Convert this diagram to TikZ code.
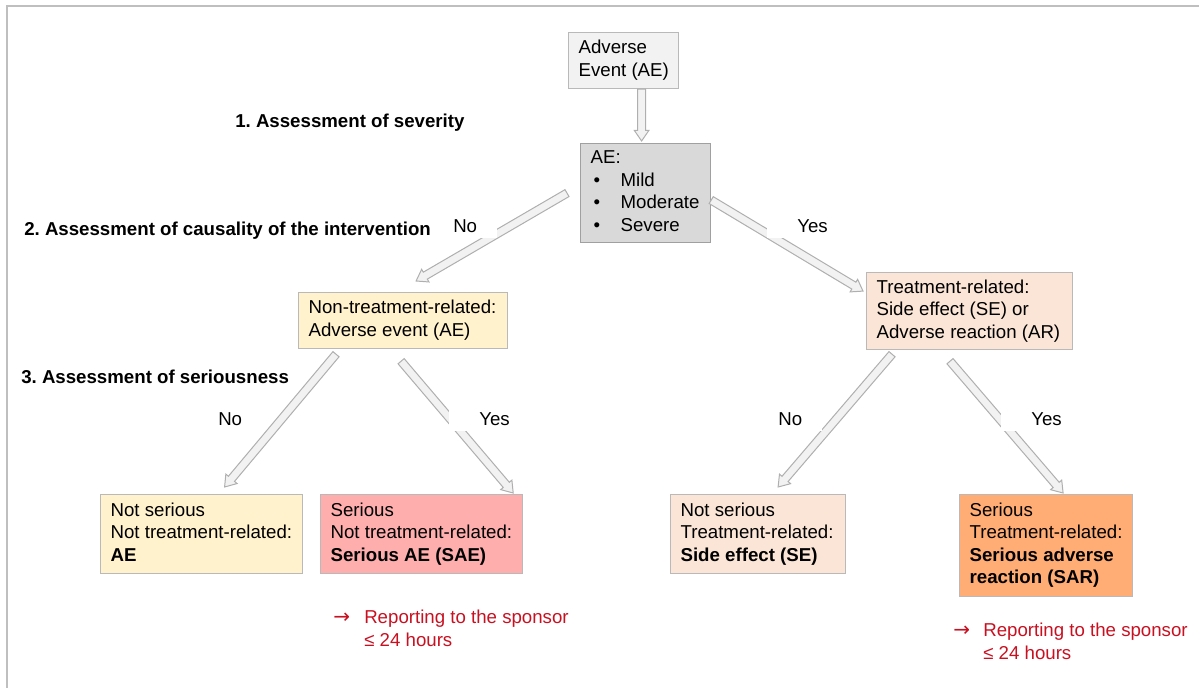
\documentclass[tikz,border=0pt]{standalone}
\usepackage{fontspec}
\setmainfont{Liberation Sans}
\newfontfamily\arrowfont{DejaVu Sans}
\usetikzlibrary{calc}
\frenchspacing

% hollow block arrow between two named coordinates
\newcommand{\hollowarrow}[2]{%
  \coordinate (#2h) at ($(#2)!8pt!(#1)$);
  \draw [arrowline] ($(#1)!3pt!90:(#2)$) -- ($(#2h)!3pt!-90:(#1)$) -- ($(#2h)!5.5pt!-90:(#1)$) -- (#2) -- ($(#2h)!5.5pt!90:(#1)$) -- ($(#2h)!3pt!90:(#1)$) -- ($(#1)!3pt!-90:(#2)$) -- cycle ;}
% left aligned lines of a box, in a fixed width
\newcommand{\boxlines}[2]{\makebox[#1][l]{\begin{tabular}{@{}l@{}}#2\end{tabular}}}

\begin{document}
\begin{tikzpicture}[x=0.75pt,y=0.75pt,yscale=-1,xscale=1,
  box/.style={draw={rgb, 255:red, 185; green, 185; blue, 185 }, line width=0.9pt, anchor=north west, inner xsep=7.5pt, inner ysep=0pt, font=\fontsize{14}{16.9}\selectfont},
  heading/.style={anchor=base west, inner sep=0pt, font=\fontsize{14}{16.8}\selectfont\bfseries},
  answer/.style={fill=white, inner xsep=6.75pt, inner ysep=0pt, minimum height=18pt, font=\fontsize{14}{16.8}\selectfont},
  report/.style={anchor=north west, inner sep=0pt, align=left, text={rgb, 255:red, 200; green, 16; blue, 32 }, font=\fontsize{14}{16.8}\selectfont},
  arrowline/.style={draw={rgb, 255:red, 175; green, 175; blue, 175 }, fill={rgb, 255:red, 242; green, 242; blue, 242 }, line width=0.75pt, line join=miter}]
\useasboundingbox (0,0) rectangle (1199,688);

%Straight Lines [frame]
\draw [draw={rgb, 255:red, 191; green, 191; blue, 191 }, line width=1.5pt] (7,688) -- (7,6) -- (1199,6) ;

%Shape: Rectangle [boxes]
\draw (568,32) node [box, fill={rgb, 255:red, 242; green, 242; blue, 242 }, minimum height=42pt] (event) {\boxlines{67.5pt}{Adverse\\Event (AE)}};
\draw (580,143) node [box, draw={rgb, 255:red, 160; green, 160; blue, 160 }, fill={rgb, 255:red, 217; green, 217; blue, 217 }, minimum height=74.25pt] (grade) {\boxlines{82.5pt}{AE:\\
  \hspace*{2.25pt}\makebox[20.25pt][l]{\textbullet}Mild\\
  \hspace*{2.25pt}\makebox[20.25pt][l]{\textbullet}Moderate\\
  \hspace*{2.25pt}\makebox[20.25pt][l]{\textbullet}Severe}};
\draw (298,292) node [box, fill={rgb, 255:red, 255; green, 242; blue, 204 }, minimum height=42pt] (nontr) {\boxlines{141.75pt}{Non-treatment-related:\\Adverse event (AE)}};
\draw (866,272) node [box, fill={rgb, 255:red, 251; green, 229; blue, 214 }, minimum height=57.75pt] (trrel) {\boxlines{139.5pt}{Treatment-related:\\Side effect (SE) or\\Adverse reaction (AR)}};
\draw (100,494) node [box, fill={rgb, 255:red, 255; green, 242; blue, 204 }, minimum height=59.25pt] (nsae) {\boxlines{136.5pt}{Not serious\\Not treatment-related:\\\textbf{AE}}};
\draw (320,494) node [box, fill={rgb, 255:red, 255; green, 174; blue, 174 }, minimum height=59.25pt] (sae) {\boxlines{136.5pt}{Serious\\Not treatment-related:\\\textbf{Serious AE (SAE)}}};
\draw (670,494) node [box, fill={rgb, 255:red, 251; green, 229; blue, 214 }, minimum height=59.25pt] (nsse) {\boxlines{116.25pt}{Not serious\\Treatment-related:\\\textbf{Side effect (SE)}}};
\draw (959,494) node [box, fill={rgb, 255:red, 255; green, 173; blue, 117 }, minimum height=76.5pt] (sar) {\boxlines{114.75pt}{Serious\\Treatment-related:\\\textbf{Serious adverse}\\\textbf{reaction (SAR)}}};

% arrow ends
\coordinate (sevtop) at ($(event.south -| grade.north)+(-4,0)$);
\coordinate (sevtip) at ($(grade.north)+(-4,-2)$);
\coordinate (notop) at ($(grade.west)+(-13,0)$);
\coordinate (notip) at ($(nontr.north)+(13,-11)$);
\coordinate (yestop) at ($(grade.east)+(0,7)$);
\coordinate (yestip) at ($(trrel.west)+(-3,-20)$);
\coordinate (nsaetop) at ($(nontr.south west)+(38,5)$);
\coordinate (nsaetip) at ($(nsae.north)+(23,-7)$);
\coordinate (saetop) at ($(nontr.south)+(-2,12)$);
\coordinate (saetip) at ($(sae.north east)+(-10,-1)$);
\coordinate (nssetop) at ($(trrel.south west)+(26,4)$);
\coordinate (nssetip) at ($(nsse.north)+(20,-7)$);
\coordinate (sartop) at ($(trrel.south west)+(84,11)$);
\coordinate (sartip) at ($(sar.north)+(17,-1)$);

%Shape: Arrow
\hollowarrow{sevtop}{sevtip}
\hollowarrow{notop}{notip}
\hollowarrow{yestop}{yestip}
\hollowarrow{nsaetop}{nsaetip}
\hollowarrow{saetop}{saetip}
\hollowarrow{nssetop}{nssetip}
\hollowarrow{sartop}{sartip}

% Text Node
\draw (235,128) node [heading] (step1) {1. Assessment of severity};
% Text Node
\draw (24,235) node [heading] (step2) {2. Assessment of causality of the intervention};
% Text Node
\draw (21,383) node [heading] (step3) {3. Assessment of seriousness};

% Text Node
\draw (444,226) node [answer, anchor=west, text width=26.25pt, align=left] (ansno) {No};
% Text Node
\draw (837,226) node [answer, anchor=east, text width=39pt, align=right] (ansyes) {Yes};
% Text Node
\draw (209,419) node [answer, anchor=west, text width=26.25pt, align=left] (nsaeno) {No};
% Text Node
\draw (519,419) node [answer, anchor=east, text width=39pt, align=right] (saeyes) {Yes};
% Text Node
\draw (769,419) node [answer, anchor=west, text width=26.25pt, align=left] (nsseno) {No};
% Text Node
\draw (1071,419) node [answer, anchor=east, text width=39pt, align=right] (saryes) {Yes};

% Text Node
\draw (333,610) node [report] (saerep) {\makebox[23.25pt][l]{\arrowfont\fontsize{15}{14}\selectfont →}Reporting to the sponsor\\\hspace*{23.25pt}≤ 24 hours};
% Text Node
\draw (953,623) node [report] (sarrep) {\makebox[22.5pt][l]{\arrowfont\fontsize{15}{14}\selectfont →}Reporting to the sponsor\\\hspace*{22.5pt}≤ 24 hours};

\end{tikzpicture}
\end{document}
